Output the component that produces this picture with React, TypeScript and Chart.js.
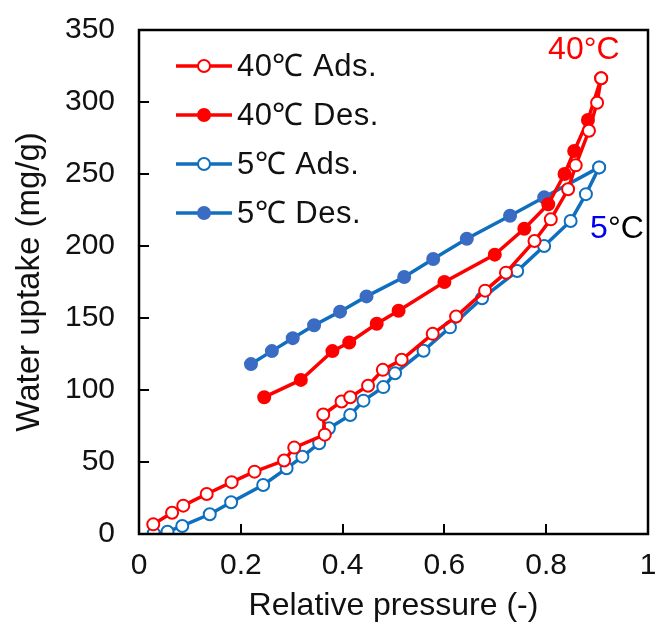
import React, { useEffect, useRef } from "react";
import { Chart, registerables } from "chart.js";

Chart.register(...registerables);

const seriesLabels = ["40℃ Ads.", "40℃ Des.", "5℃ Ads.", "5℃ Des."];

const red40AdsX = [0.028, 0.065, 0.087, 0.133, 0.182, 0.227, 0.285, 0.305, 0.365, 0.362, 0.398, 0.415, 0.45, 0.479, 0.516, 0.577, 0.623, 0.68, 0.721, 0.777, 0.809, 0.843, 0.858, 0.884, 0.9, 0.908];
const red40AdsY = [6.7, 14.8, 19.7, 27.8, 36, 43.3, 51, 60, 69, 83, 92, 95, 103, 114, 121, 139, 151, 169, 181.5, 203.5, 218.5, 239.4, 256, 280, 299.5, 316.5];

const red40DesX = [0.908, 0.882, 0.855, 0.836, 0.804, 0.757, 0.699, 0.6, 0.51, 0.467, 0.413, 0.38, 0.318, 0.246];
const red40DesY = [316.5, 287.5, 266, 250, 229, 212, 194, 175, 155, 146, 133, 127, 107, 95];

const blue5AdsX = [0.029, 0.056, 0.085, 0.139, 0.181, 0.244, 0.29, 0.321, 0.354, 0.373, 0.415, 0.441, 0.48, 0.503, 0.559, 0.611, 0.674, 0.743, 0.796, 0.848, 0.878, 0.904];
const blue5AdsY = [0.5, 1.6, 5.6, 13.7, 22, 34, 45.6, 53.7, 63, 73.4, 82.6, 92.6, 102, 111.6, 127.3, 143.5, 163.7, 182.6, 200, 217.4, 236, 254.6];

const blue5DesX = [0.904, 0.796, 0.729, 0.644, 0.578, 0.521, 0.447, 0.395, 0.344, 0.302, 0.261, 0.22];
const blue5DesY = [254.6, 233.8, 221, 205, 191, 178.5, 165, 154.4, 145, 136, 127, 118];

const xTickValues = [0, 0.2, 0.4, 0.6, 0.8, 1];
const yTickValues = [0, 50, 100, 150, 200, 250, 300, 350];

const annot40 = { text: "40°C", x: 0.874, y: 336 };
const annot5 = { num: "5", unit: "°C", x: 0.939, y: 212 };

const RED = "#FF0000";
const BLUE_LINE = "#0F6FBF";
const BLUE_FILL = "#3A6CC4";
const FONT = "'Liberation Sans', Arial, sans-serif";

const toPts = (xs: number[], ys: number[]) => xs.map((x, i) => ({ x, y: ys[i] }));

export default function App() {
  const ref = useRef<HTMLCanvasElement | null>(null);

  useEffect(() => {
    document.body.style.margin = "0";
    const canvas = ref.current;
    if (!canvas) return;

    const styles = [
      { line: RED, fill: "#FFFFFF", border: RED },
      { line: RED, fill: RED, border: RED },
      { line: BLUE_LINE, fill: "#FFFFFF", border: BLUE_LINE },
      { line: BLUE_LINE, fill: BLUE_FILL, border: BLUE_FILL },
    ];
    const dataSets = [
      toPts(red40AdsX, red40AdsY),
      toPts(red40DesX, red40DesY),
      toPts(blue5AdsX, blue5AdsY),
      toPts(blue5DesX, blue5DesY),
    ];

    const decor = {
      id: "decor",
      afterDraw(chart: any) {
        const ctx = chart.ctx;
        const { left, right, top, bottom } = chart.chartArea;
        const xs = chart.scales.x;
        const ys = chart.scales.y;
        ctx.save();
        // box
        ctx.strokeStyle = "#000";
        ctx.lineWidth = 2.5;
        ctx.strokeRect(left, top, right - left, bottom - top);
        // inward ticks
        ctx.lineWidth = 2;
        xTickValues.forEach((v) => {
          const px = Math.round(xs.getPixelForValue(v));
          ctx.beginPath();
          ctx.moveTo(px, bottom);
          ctx.lineTo(px, bottom - 10);
          ctx.stroke();
        });
        yTickValues.forEach((v) => {
          const py = Math.round(ys.getPixelForValue(v));
          ctx.beginPath();
          ctx.moveTo(left, py);
          ctx.lineTo(left + 10, py);
          ctx.stroke();
        });

        // legend
        ctx.font = `31px ${FONT}`;
        ctx.textBaseline = "middle";
        ctx.textAlign = "left";
        try { ctx.letterSpacing = "0.5px"; } catch (e) {}
        seriesLabels.forEach((label, i) => {
          const s = styles[i];
          const y = top + 36 + i * 49;
          const x0 = left + 37;
          const x1 = left + 93;
          ctx.strokeStyle = s.line;
          ctx.lineWidth = 3.5;
          ctx.beginPath();
          ctx.moveTo(x0, y);
          ctx.lineTo(x1, y);
          ctx.stroke();
          ctx.beginPath();
          ctx.arc((x0 + x1) / 2, y, 6, 0, Math.PI * 2);
          ctx.fillStyle = s.fill;
          ctx.fill();
          ctx.lineWidth = 2;
          ctx.strokeStyle = s.border;
          ctx.stroke();
          ctx.fillStyle = "#111";
          ctx.fillText(label, x1 + 5, y + 1);
        });
        try { ctx.letterSpacing = "0px"; } catch (e) {}

        // annotations
        ctx.font = `32px ${FONT}`;
        ctx.textAlign = "center";
        ctx.fillStyle = RED;
        ctx.fillText(annot40.text, xs.getPixelForValue(annot40.x), ys.getPixelForValue(annot40.y));
        const cx = xs.getPixelForValue(annot5.x);
        const cy = ys.getPixelForValue(annot5.y);
        const w1 = ctx.measureText(annot5.num).width;
        const w2 = ctx.measureText(annot5.unit).width;
        const sx = cx - (w1 + w2) / 2;
        ctx.textAlign = "left";
        ctx.fillStyle = "#0000EE";
        ctx.fillText(annot5.num, sx, cy);
        ctx.fillStyle = "#000";
        ctx.fillText(annot5.unit, sx + w1, cy);
        ctx.restore();
      },
    };

    const chart = new Chart(canvas, {
      type: "scatter",
      data: {
        datasets: dataSets.map((d, i) => ({
          label: seriesLabels[i],
          data: d,
          showLine: true,
          borderColor: styles[i].line,
          borderWidth: 3.5,
          pointRadius: 6,
          pointBorderWidth: 2,
          pointBackgroundColor: styles[i].fill,
          pointBorderColor: styles[i].border,
          tension: 0,
        })),
      },
      options: {
        animation: false,
        responsive: true,
        maintainAspectRatio: false,
        layout: { padding: { left: 0, top: 30, right: 8, bottom: 0 } },
        plugins: { legend: { display: false }, tooltip: { enabled: false } },
        scales: {
          x: {
            type: "linear",
            min: 0,
            max: 1,
            afterFit(scale: any) {
              scale.height = 105;
              scale.paddingLeft = 0;
              scale.paddingRight = 0;
            },
            afterBuildTicks(scale: any) {
              scale.ticks = xTickValues.map((v) => ({ value: v }));
            },
            grid: { display: false, drawTicks: false },
            border: { display: false },
            ticks: {
              padding: 14,
              color: "#111",
              font: { family: FONT, size: 30 },
              callback: (v: any) => String(v),
            },
            title: {
              display: true,
              text: "Relative pressure (-)",
              color: "#111",
              font: { family: FONT, size: 32 },
              padding: { top: 0, bottom: 14 },
            },
          },
          y: {
            type: "linear",
            min: 0,
            max: 350,
            afterFit(scale: any) {
              scale.width = 139;
              scale.paddingTop = 0;
              scale.paddingBottom = 0;
            },
            afterBuildTicks(scale: any) {
              scale.ticks = yTickValues.map((v) => ({ value: v }));
            },
            grid: { display: false, drawTicks: false },
            border: { display: false },
            ticks: {
              padding: 24,
              color: "#111",
              font: { family: FONT, size: 30 },
            },
            title: {
              display: true,
              text: "Water uptake (mg/g)",
              color: "#111",
              font: { family: FONT, size: 33 },
              padding: { top: 10, bottom: 0 },
            },
          },
        },
      },
      plugins: [decor],
    });
    return () => chart.destroy();
  }, []);

  return (
    <div style={{ width: 656, height: 639, position: "relative" }}>
      <canvas ref={ref} />
    </div>
  );
}
